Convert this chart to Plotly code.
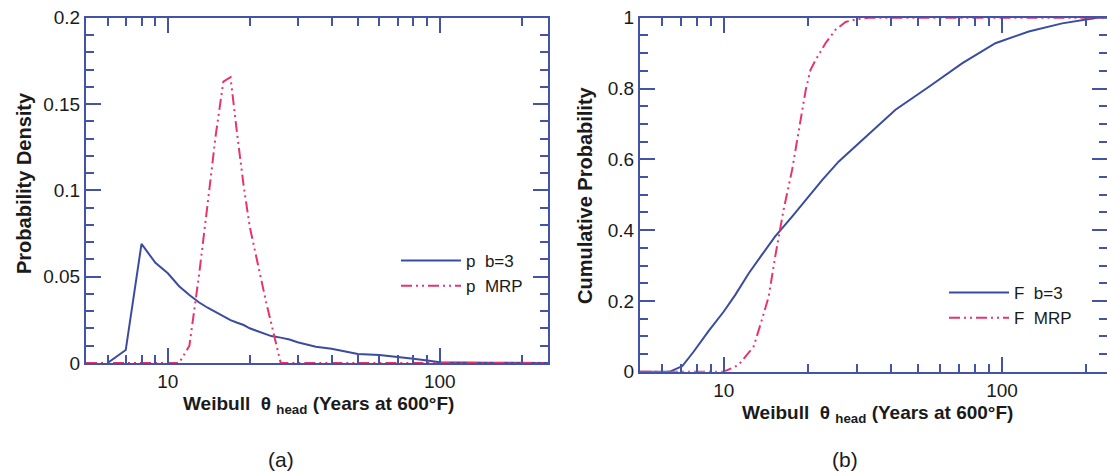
import plotly.graph_objects as go
import math

# ---------------- data ----------------
# (a) probability density
theta_pb3 = [6, 7, 8, 9, 10, 11, 12, 13, 14, 15, 16, 17, 18, 19, 20, 22, 24, 26, 28, 30,
             35, 40, 50, 60, 70, 80, 90, 100, 150, 250]
p_b3 = [0.0, 0.0075, 0.069, 0.058, 0.052, 0.0445, 0.0394, 0.0352, 0.032, 0.0295, 0.0271,
        0.0248, 0.0233, 0.022, 0.0201, 0.0177, 0.0156, 0.0147, 0.0136, 0.012,
        0.0094, 0.0083, 0.0052, 0.0046, 0.0037, 0.0025, 0.0014, 0.0004, 0.0002, 0.0]

theta_mrp = [5, 11, 12, 13, 14, 15, 16, 17, 18, 19, 20, 21, 22, 23, 24, 25, 26, 250]
p_mrp = [0.0, 0.0, 0.010, 0.050, 0.092, 0.132, 0.163, 0.1655, 0.132, 0.1026, 0.079,
         0.063, 0.048, 0.035, 0.023, 0.011, 0.0, 0.0]

# (b) cumulative probability
theta_Fb3 = [5, 6.4, 7.1, 7.8, 8.8, 10, 11, 12.3, 13.7, 15.3, 17.6, 19.7, 22.6, 25.9, 31.4,
             41.4, 54.6, 71.8, 94.6, 124.7, 164.4, 199.6, 220, 240]
F_b3 = [0.0, 0.0, 0.016, 0.057, 0.114, 0.170, 0.217, 0.278, 0.330, 0.382, 0.438, 0.485,
        0.542, 0.594, 0.655, 0.740, 0.805, 0.871, 0.928, 0.961, 0.984, 0.994, 1.0, 1.0]

theta_Fmrp = [5, 10, 11.3, 12.0, 12.8, 13.7, 14.5, 15.3, 16.4, 17.6, 18.6, 19.7, 20.5, 21.4,
              23.2, 25.2, 27.4, 29.7, 33.2, 240]
F_mrp = [0.0, 0.0, 0.019, 0.043, 0.071, 0.146, 0.212, 0.325, 0.457, 0.570, 0.683, 0.796,
         0.853, 0.881, 0.928, 0.966, 0.988, 0.995, 1.0, 1.0]

x_major = [10, 100]
x_major_text = ["10", "100"]
x_minor = [6, 7, 8, 9, 20, 30, 40, 50, 60, 70, 80, 90, 200]

ya_major = [0, 0.05, 0.1, 0.15, 0.2]
ya_text = ["0", "0.05", "0.1", "0.15", "0.2"]
yb_major = [0, 0.2, 0.4, 0.6, 0.8, 1.0]
yb_text = ["0", "0.2", "0.4", "0.6", "0.8", "1"]

# ---------------- style ----------------
BLUE = "#3A4CA2"
AXC = "#4253A8"
PINK = "#E8336C"
TXT = "#1a1a1a"
FONT = "Liberation Sans, Arial, sans-serif"
MRP_DASH = "11px,4px,2px,4px,2px,4px"

fig = go.Figure()
fig.add_trace(go.Scatter(x=theta_pb3, y=p_b3, mode="lines", name="p  b=3",
                         line=dict(color=BLUE, width=2), xaxis="x", yaxis="y",
                         legend="legend"))
fig.add_trace(go.Scatter(x=theta_mrp, y=p_mrp, mode="lines", name="p  MRP",
                         line=dict(color=PINK, width=2, dash=MRP_DASH), xaxis="x", yaxis="y",
                         legend="legend"))
fig.add_trace(go.Scatter(x=theta_Fb3, y=F_b3, mode="lines", name="F  b=3",
                         line=dict(color=BLUE, width=2), xaxis="x2", yaxis="y2",
                         legend="legend2"))
fig.add_trace(go.Scatter(x=theta_Fmrp, y=F_mrp, mode="lines", name="F  MRP",
                         line=dict(color=PINK, width=2, dash=MRP_DASH), xaxis="x2", yaxis="y2",
                         legend="legend2"))

W, H = 1107, 472


def px(x):
    return x / W


def py(y):
    return (H - y) / H


common_axis = dict(showline=True, linecolor=AXC, linewidth=2, mirror="ticks",
                   ticks="inside", ticklen=15, tickwidth=2, tickcolor=AXC,
                   showgrid=False, zeroline=False, automargin=False,
                   tickfont=dict(family=FONT, size=19, color=TXT))
minor_common = dict(ticks="inside", ticklen=8, tickwidth=2, tickcolor=AXC, showgrid=False)

fig.update_layout(
    template="none",
    width=W, height=H, margin=dict(l=0, r=0, t=0, b=0, pad=0, autoexpand=False),
    paper_bgcolor="white", plot_bgcolor="white",
    font=dict(family=FONT, color=TXT),
    xaxis=dict(common_axis, type="log", domain=[px(86), px(548)],
               range=[math.log10(5), math.log10(250)],
               tickvals=x_major, ticktext=x_major_text, anchor="y",
               minor=dict(minor_common, tickvals=x_minor)),
    yaxis=dict(common_axis, domain=[py(363), py(17.7)], range=[0, 0.2],
               tickvals=ya_major, ticktext=ya_text, anchor="x",
               minor=dict(minor_common, dtick=0.01)),
    xaxis2=dict(common_axis, type="log", domain=[px(640), 1.0],
                range=[math.log10(5), math.log10(5) + 467 / 278.3],
                tickvals=x_major, ticktext=x_major_text, anchor="y2",
                minor=dict(minor_common, tickvals=x_minor)),
    yaxis2=dict(common_axis, domain=[py(371.7), py(17.7)], range=[0, 1],
                tickvals=yb_major, ticktext=yb_text, anchor="x2",
                minor=dict(minor_common, dtick=0.05)),
    legend=dict(x=px(396), y=py(243), xanchor="left", yanchor="top",
                bgcolor="rgba(0,0,0,0)", font=dict(family=FONT, size=17, color=TXT),
                itemwidth=60),
    legend2=dict(x=px(944), y=py(275), xanchor="left", yanchor="top",
                 bgcolor="rgba(0,0,0,0)", font=dict(family=FONT, size=17, color=TXT),
                 itemwidth=60),
    showlegend=True,
)

xtitle = "<b>Weibull  θ <sub>head</sub> (Years at 600°F)</b>"
TF = dict(family=FONT, size=20, color=TXT)
XF = dict(family=FONT, size=19, color=TXT)
common_ann = dict(xref="paper", yref="paper", showarrow=False,
                  xanchor="center", yanchor="middle")
ann = [
    dict(common_ann, text=xtitle, x=px(318), y=py(405), font=XF),
    dict(common_ann, text=xtitle, x=px(877), y=py(414), font=XF),
    dict(common_ann, text="<b>Probability Density</b>", x=px(24), y=py(183),
         textangle=-90, font=TF),
    dict(common_ann, text="<b>Cumulative Probability</b>", x=px(585), y=py(195),
         textangle=-90, font=TF),
    dict(common_ann, text="(a)", x=px(281), y=py(459),
         font=dict(family=FONT, size=21, color=TXT)),
    dict(common_ann, text="(b)", x=px(845), y=py(459),
         font=dict(family=FONT, size=21, color=TXT)),
]
fig.update_layout(annotations=ann)

fig.write_html("out.html")
